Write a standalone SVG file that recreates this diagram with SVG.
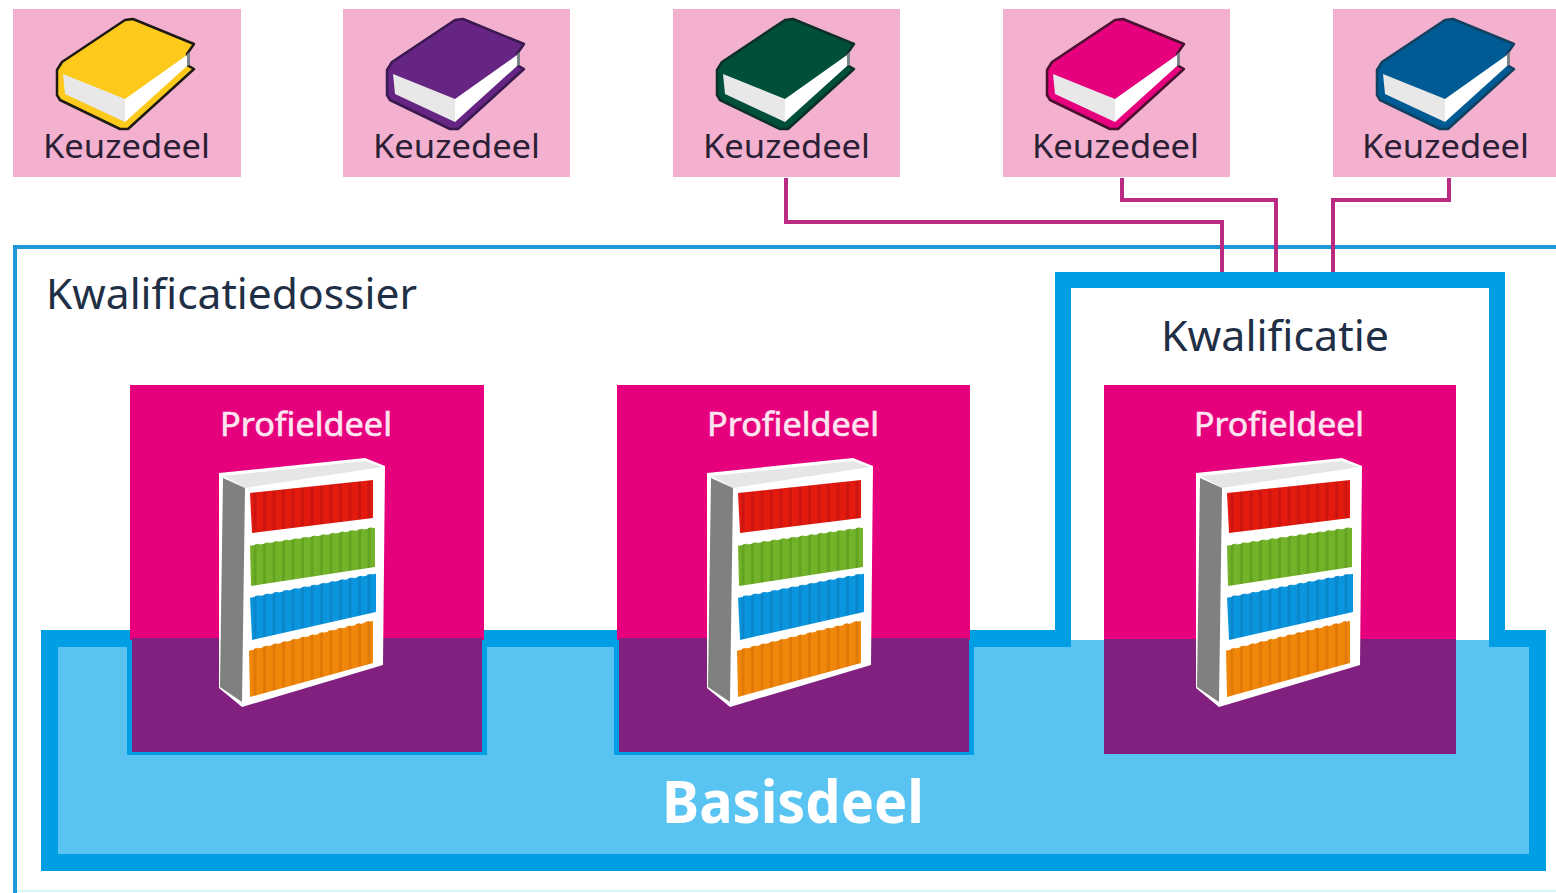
<svg xmlns="http://www.w3.org/2000/svg" width="1556" height="893" viewBox="0 0 1556 893">
<style>
text{font-family:"Noto Sans","Open Sans","Liberation Sans",sans-serif}
.k{font-size:33px;fill:#2b2035}
.d{font-size:42px;fill:#1f2f45}
.p{font-size:32px;fill:#fde4f0;stroke:#fde4f0;stroke-width:.6}
.tile{fill:#f3b1cf}
.mag{fill:#e6007e}
.pur{fill:#82207f}
.blu{fill:#009fe3}
.lb{fill:#59c3f2}
.conn{fill:none;stroke:#b92a80;stroke-width:4}
.tooth{fill:none;stroke:#fff;stroke-width:2.5;stroke-dasharray:5 4.5}
</style>
<defs>
<g id="book">
<path d="M57 70L62 62L125 20L133 19L194 44L187 54V65L194 69L128 129L120 129L60 100L57 95Z" fill="currentColor" stroke-width="2.5" stroke-linejoin="round"/>
<path d="M63 74L125 99V122L65 94Z" fill="#e8e8e8" stroke="none"/>
<path d="M125 99L187 55V66L125 122Z" fill="#fff" stroke="none"/>
<path d="M187 54L190 52V65L187 66Z" fill="#7d8489" stroke="none"/>
</g>
<pattern id="sr" width="9.5" height="10" patternUnits="userSpaceOnUse"><rect width="9.5" height="10" fill="#e31a0e"/><rect x="6.5" width="3" height="10" fill="#cc1510"/></pattern>
<pattern id="sg" width="9.5" height="10" patternUnits="userSpaceOnUse"><rect width="9.5" height="10" fill="#72b32a"/><rect x="6.5" width="3" height="10" fill="#63a322"/></pattern>
<pattern id="sb" width="9.5" height="10" patternUnits="userSpaceOnUse"><rect width="9.5" height="10" fill="#0a96de"/><rect x="6.5" width="3" height="10" fill="#0a86cb"/></pattern>
<pattern id="so" width="9.5" height="10" patternUnits="userSpaceOnUse"><rect width="9.5" height="10" fill="#f0870a"/><rect x="6.5" width="3" height="10" fill="#e07a05"/></pattern>
<g id="shelf">
<path d="M219 473L365 458L385 466L383 665L242 707L219 688Z" fill="#fff"/>
<path d="M224 476L365 461L382 467L245 488Z" fill="#e6e6e6"/>
<path d="M223 478L245 488L242 702L220 687Z" fill="#808080"/>
<path d="M250 493L373 480V518L252 533Z" fill="url(#sr)"/>
<path d="M250 545L375 527V567L251 586Z" fill="url(#sg)"/>
<path d="M250 597L376 573V612L252 640Z" fill="url(#sb)"/>
<path d="M249 650L373 620V663L250 697Z" fill="url(#so)"/>
<path class="tooth" d="M250 544.5L375 526.5M250 596.5L376 572.5M249 649.5L373 619.5"/>
</g>
</defs>
<rect width="1556" height="893" fill="#fff"/>

<g id="kwalificatiedossier">
<path d="M1556 247H15V893" fill="none" stroke="#1f97d6" stroke-width="4"/>
<path d="M17 891H1556" fill="none" stroke="#d5f6fa" stroke-width="2"/>
<text x="46" y="309" class="d" textLength="371" lengthAdjust="spacingAndGlyphs">Kwalificatiedossier</text>
</g>

<g id="basisdeel">
<rect x="41" y="630" width="1505" height="241" class="blu"/>
<rect x="58" y="647" width="1471" height="207" class="lb"/>
</g>

<g id="kwalificatie">
<rect x="1055" y="272" width="450" height="375" class="blu"/>
<rect x="1071" y="288" width="418" height="352" fill="#fff"/>
<rect x="1071" y="640" width="418" height="20" class="lb"/>
<text x="1161" y="351" class="d" textLength="228" lengthAdjust="spacingAndGlyphs">Kwalificatie</text>
</g>

<g id="basisdeel-label">
<text x="662" y="823" font-size="60" font-weight="700" fill="#fff" textLength="262" lengthAdjust="spacingAndGlyphs">Basisdeel</text>
</g>

<g id="profieldeel-1">
<rect x="127" y="630" width="360" height="125" class="blu"/>
<rect x="130" y="385" width="354" height="255" class="mag"/>
<rect x="132" y="638" width="350" height="114" class="pur"/>
<text x="220" y="436" class="p" textLength="172" lengthAdjust="spacingAndGlyphs">Profieldeel</text>
<use href="#shelf"/>
</g>
<g id="profieldeel-2">
<rect x="614" y="630" width="360" height="125" class="blu"/>
<rect x="617" y="385" width="353" height="255" class="mag"/>
<rect x="619" y="638" width="350" height="114" class="pur"/>
<text x="707" y="436" class="p" textLength="172" lengthAdjust="spacingAndGlyphs">Profieldeel</text>
<use href="#shelf" x="488"/>
</g>
<g id="profieldeel-3">
<rect x="1104" y="385" width="352" height="255" class="mag"/>
<rect x="1104" y="639" width="352" height="115" class="pur"/>
<text x="1194" y="436" class="p" textLength="170" lengthAdjust="spacingAndGlyphs">Profieldeel</text>
<use href="#shelf" x="977"/>
</g>

<g id="keuzedeel-1">
<rect x="13" y="9" width="228" height="168" class="tile"/>
<use href="#book" color="#fdc91b" stroke="#1d1a14"/>
<text x="43" y="158" class="k" textLength="167" lengthAdjust="spacingAndGlyphs">Keuzedeel</text>
</g>
<g id="keuzedeel-2">
<rect x="343" y="9" width="227" height="168" class="tile"/>
<use href="#book" x="330" color="#662483" stroke="#3a1850"/>
<text x="373" y="158" class="k" textLength="167" lengthAdjust="spacingAndGlyphs">Keuzedeel</text>
</g>
<g id="keuzedeel-3">
<rect x="673" y="9" width="227" height="168" class="tile"/>
<use href="#book" x="660" color="#004f3a" stroke="#0c2f27"/>
<text x="703" y="158" class="k" textLength="167" lengthAdjust="spacingAndGlyphs">Keuzedeel</text>
</g>
<g id="keuzedeel-4">
<rect x="1003" y="9" width="227" height="168" class="tile"/>
<use href="#book" x="990" color="#e6007e" stroke="#4a1030"/>
<text x="1032" y="158" class="k" textLength="167" lengthAdjust="spacingAndGlyphs">Keuzedeel</text>
</g>
<g id="keuzedeel-5">
<rect x="1333" y="9" width="223" height="168" class="tile"/>
<use href="#book" x="1320" color="#005a94" stroke="#12405f"/>
<text x="1362" y="158" class="k" textLength="167" lengthAdjust="spacingAndGlyphs">Keuzedeel</text>
</g>

<g id="connectors">
<path class="conn" d="M786 178V222H1222V272"/>
<path class="conn" d="M1122 178V200H1276V272"/>
<path class="conn" d="M1449 178V200H1333V272"/>
</g>
</svg>
